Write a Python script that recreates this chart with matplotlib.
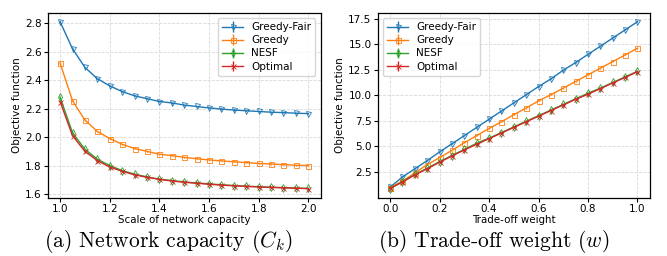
import numpy as np
import matplotlib
matplotlib.use("Agg")
import matplotlib.pyplot as plt

plt.rcParams['mathtext.fontset'] = 'cm'

# Left panel: scale of network capacity
cap_x = [1.0, 1.05, 1.1, 1.15, 1.2, 1.25, 1.3, 1.35, 1.4, 1.45, 1.5,
         1.55, 1.6, 1.65, 1.7, 1.75, 1.8, 1.85, 1.9, 1.95, 2.0]
cap_greedy_fair = [2.81, 2.62, 2.49, 2.41, 2.36, 2.32, 2.29, 2.27, 2.25, 2.24, 2.225,
                   2.215, 2.205, 2.197, 2.19, 2.185, 2.18, 2.175, 2.172, 2.168, 2.165]
cap_greedy = [2.52, 2.255, 2.12, 2.04, 1.99, 1.95, 1.92, 1.90, 1.88, 1.87, 1.858,
              1.848, 1.84, 1.833, 1.827, 1.821, 1.815, 1.811, 1.807, 1.803, 1.80]
cap_nesf = [2.28, 2.03, 1.915, 1.845, 1.80, 1.765, 1.74, 1.72, 1.705, 1.695, 1.685,
            1.678, 1.672, 1.665, 1.66, 1.655, 1.652, 1.648, 1.645, 1.642, 1.64]
cap_optimal = [2.25, 2.01, 1.90, 1.835, 1.79, 1.76, 1.735, 1.718, 1.703, 1.692, 1.683,
               1.676, 1.669, 1.663, 1.658, 1.654, 1.65, 1.647, 1.644, 1.641, 1.638]
cap_err = [0.004] * 21

# Right panel: trade-off weight
w_x = [0.0, 0.05, 0.1, 0.15, 0.2, 0.25, 0.3, 0.35, 0.4, 0.45, 0.5,
       0.55, 0.6, 0.65, 0.7, 0.75, 0.8, 0.85, 0.9, 0.95, 1.0]
w_greedy_fair = [1.0, 2.0, 2.8, 3.6, 4.45, 5.25, 6.05, 6.85, 7.65, 8.45, 9.25,
                 10.05, 10.85, 11.6, 12.45, 13.2, 14.0, 14.8, 15.6, 16.4, 17.2]
w_greedy = [0.95, 1.6, 2.4, 3.2, 3.9, 4.6, 5.35, 6.05, 6.75, 7.4, 8.1,
            8.75, 9.45, 10.05, 10.7, 11.35, 12.0, 12.65, 13.3, 13.95, 14.6]
w_nesf = [0.85, 1.55, 2.25, 2.85, 3.5, 4.1, 4.7, 5.3, 5.8, 6.35, 6.9,
          7.45, 8.0, 8.55, 9.1, 9.65, 10.2, 10.7, 11.25, 11.8, 12.35]
w_optimal = [0.9, 1.5, 2.2, 2.8, 3.45, 4.05, 4.65, 5.2, 5.75, 6.3, 6.85,
             7.4, 7.95, 8.5, 9.05, 9.6, 10.1, 10.65, 11.2, 11.75, 12.3]
w_err = [0.05] * 21

labels = ["Greedy-Fair", "Greedy", "NESF", "Optimal"]
colors = ["#1f77b4", "#ff7f0e", "#2ca02c", "#d62728"]
markers = ["v", "s", "d", "x"]

fig = plt.figure(figsize=(6.67, 2.56), dpi=100)
ax1 = fig.add_axes([0.0715, 0.228, 0.4093, 0.722])
ax2 = fig.add_axes([0.5663, 0.228, 0.408, 0.722])

def draw(ax, x, series, err):
    for ys, lab, c, m in zip(series, labels, colors, markers):
        ax.errorbar(x, ys, yerr=err, color=c, marker=m, markersize=3.6,
                    markerfacecolor='none', markeredgewidth=0.6, linewidth=1.0,
                    elinewidth=1.0, label=lab)
    ax.grid(True, linestyle='--', color='#d9d9d9', linewidth=0.6)
    ax.tick_params(labelsize=7.5, length=3, width=0.8, pad=1.5)
    ax.set_ylabel("Objective function", fontsize=7.5, labelpad=2)
    for s in ax.spines.values():
        s.set_linewidth(0.9)

draw(ax1, cap_x, [cap_greedy_fair, cap_greedy, cap_nesf, cap_optimal], cap_err)
draw(ax2, w_x, [w_greedy_fair, w_greedy, w_nesf, w_optimal], w_err)

ax1.set_xlabel("Scale of network capacity", fontsize=7.4, labelpad=0.5)
ax2.set_xlabel("Trade-off weight", fontsize=7.4, labelpad=0.5)
ax1.set_xticks([1.0, 1.2, 1.4, 1.6, 1.8, 2.0])
ax1.set_yticks([1.6, 1.8, 2.0, 2.2, 2.4, 2.6, 2.8])
ax2.set_xticks([0.0, 0.2, 0.4, 0.6, 0.8, 1.0])
ax2.set_yticks([2.5, 5.0, 7.5, 10.0, 12.5, 15.0, 17.5])

ax1.legend(loc='upper right', fontsize=7.5, handlelength=2.0, borderpad=0.4,
           labelspacing=0.3, handletextpad=0.8)
ax2.legend(loc='upper left', fontsize=7.5, handlelength=2.0, borderpad=0.4,
           labelspacing=0.3, handletextpad=0.8)

fig.text(168 / 667, 0.058, r"(a) Network capacity ($C_k$)", fontsize=15.5,
         family='cmr10', ha='center', va='center')
fig.text(494 / 667, 0.058, r"(b) Trade-off weight ($w$)", fontsize=15.5,
         family='cmr10', ha='center', va='center')

fig.savefig("out.png", dpi=100)
